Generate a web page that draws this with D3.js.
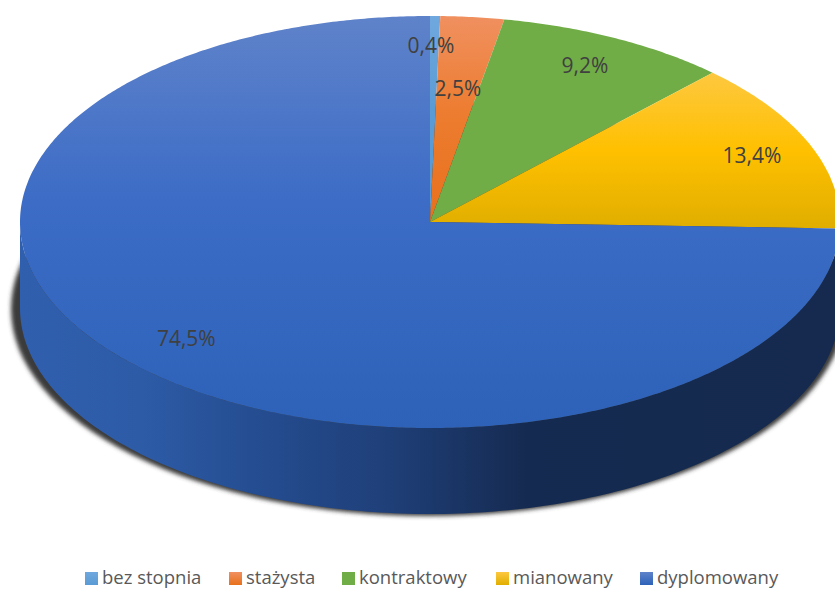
<!DOCTYPE html>
<html>
<head>
<meta charset="utf-8">
<script src="https://cdn.jsdelivr.net/npm/d3@7"></script>
<style>
  html, body { margin: 0; padding: 0; background: #fff; overflow: hidden; }
  text { font-family: "Open Sans", "Noto Sans", sans-serif; }
</style>
</head>
<body>
<div id="chart"></div>
<script>
// Data
const categories = ["bez stopnia", "stażysta", "kontraktowy", "mianowany", "dyplomowany"];
const values = [0.4, 2.5, 9.2, 13.4, 74.5];
const valueLabels = ["0,4%", "2,5%", "9,2%", "13,4%", "74,5%"];

// Top face gradient stops per slice
const topColors = [
  ["#6fa8de", "#5b9bd5", "#5b9bd5"],
  ["#f09060", "#ed7d31", "#e8701c"],
  ["#70ad47", "#70ad47", "#70ad47"],
  ["#fdc840", "#ffc000", "#e0ae00"],
  ["#5f83ca", "#3c6cc6", "#2d62b8"]
];

const width = 835;
const height = 589;
const cx = 430, cy = 222;
const rx = 410, ry = 206;
const depth = 86;

// Where each data label sits: fraction of the radius, and shift from the slice's mid angle
const labelRadius = [0.859, 0.654, 0.851, 0.85, 0.819];
const labelAngleShift = [-0.0098, 0.001, -0.011, -0.003, 0.011];

const svg = d3.select("#chart")
  .append("svg")
  .attr("width", width)
  .attr("height", height)
  .style("display", "block");

const defs = svg.append("defs");

defs.append("filter")
  .attr("id", "shadowBlur")
  .attr("x", "-5%").attr("y", "-5%")
  .attr("width", "110%").attr("height", "110%")
  .append("feGaussianBlur")
  .attr("stdDeviation", 2);

// Pie layout in data order, clockwise from 12 o'clock
const pie = d3.pie().sort(null).value(d => d);
const slices = pie(values);

// Top face gradients, in page coordinates
topColors.forEach((stops, i) => {
  const g = defs.append("linearGradient")
    .attr("id", "top" + i)
    .attr("gradientUnits", "userSpaceOnUse")
    .attr("x1", 0).attr("x2", 0)
    .attr("y1", i === 3 ? 72 : cy - ry)
    .attr("y2", i === 3 ? 229 : i === 4 ? cy + ry : 222);
  g.selectAll("stop").data(stops).enter().append("stop")
    .attr("offset", (d, j) => j === 1 ? (i === 3 ? "50%" : "45%") : j === 0 ? "0%" : "100%")
    .attr("stop-color", d => d);
});

// Side wall gradient, left to right
const wallGrad = defs.append("linearGradient")
  .attr("id", "wall")
  .attr("gradientUnits", "userSpaceOnUse")
  .attr("x1", cx - rx).attr("x2", cx + rx)
  .attr("y1", 0).attr("y2", 0);
[[0, "#305fae"], [0.15, "#2d5ba6"], [0.3, "#244c8f"], [0.45, "#1f3f78"], [0.62, "#152a50"], [1, "#152a4e"]]
  .forEach(s => wallGrad.append("stop").attr("offset", s[0]).attr("stop-color", s[1]));

// Legend swatch gradients
topColors.forEach((stops, i) => {
  const g = defs.append("linearGradient")
    .attr("id", "swatch" + i)
    .attr("x1", 0).attr("x2", 0).attr("y1", 0).attr("y2", 1);
  g.append("stop").attr("offset", "0%").attr("stop-color", stops[0]);
  g.append("stop").attr("offset", "100%").attr("stop-color", stops[2]);
});

// Soft shadow under the disc: an ellipse just poking out past the wall
svg.append("ellipse")
  .attr("cx", cx - 2).attr("cy", cy + depth + 1)
  .attr("rx", rx + 7).attr("ry", ry + 1)
  .attr("fill", "#3a3a3a")
  .attr("filter", "url(#shadowBlur)");

// Front half of the rim
const frontAngles = d3.range(Math.PI / 2, Math.PI * 1.5 + 0.001, Math.PI / 180);
const wallArea = d3.area()
  .x(a => cx + rx * Math.sin(a))
  .y0(a => cy - ry * Math.cos(a))
  .y1(a => cy - ry * Math.cos(a) + depth);

svg.append("path")
  .attr("d", wallArea(frontAngles))
  .attr("fill", "url(#wall)");

// Top face, sampled along the elliptical rim
svg.append("g")
  .selectAll("path")
  .data(slices)
  .enter().append("path")
  .attr("d", d => {
    const steps = d3.range(d.startAngle, d.endAngle, Math.PI / 360).concat([d.endAngle]);
    const pts = steps.map(a => [cx + rx * Math.sin(a), cy - ry * Math.cos(a)]);
    return d3.line()([[cx, cy], ...pts]) + "Z";
  })
  .attr("fill", (d, i) => `url(#top${i})`);

// Data labels
svg.append("g")
  .selectAll("text")
  .data(slices)
  .enter().append("text")
  .attr("x", (d, i) => cx + labelRadius[i] * rx * Math.sin((d.startAngle + d.endAngle) / 2 + labelAngleShift[i]))
  .attr("y", (d, i) => cy - labelRadius[i] * ry * Math.cos((d.startAngle + d.endAngle) / 2 + labelAngleShift[i]))
  .attr("text-anchor", "middle")
  .attr("dominant-baseline", "central")
  .attr("font-size", 21)
  .attr("fill", "#404040")
  .text((d, i) => valueLabels[i]);

// Legend
const legendX = d3.scaleOrdinal().domain(categories).range([85, 229, 342, 496, 640]);
const legend = svg.append("g")
  .selectAll("g")
  .data(categories)
  .enter().append("g")
  .attr("transform", d => `translate(${legendX(d)},572)`);
legend.append("rect")
  .attr("width", 13).attr("height", 13)
  .attr("fill", (d, i) => `url(#swatch${i})`);
legend.append("text")
  .attr("x", 17).attr("y", 11.5)
  .attr("font-size", 18.5)
  .attr("fill", "#595959")
  .text(d => d);
</script>
</body>
</html>
